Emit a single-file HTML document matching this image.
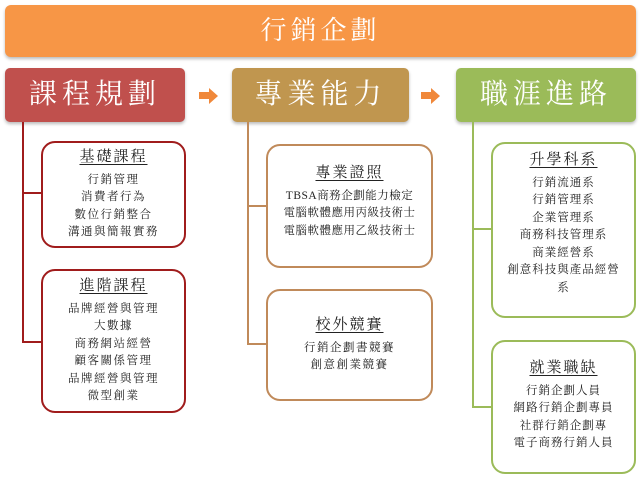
<!DOCTYPE html>
<html><head><meta charset="utf-8"><style>
body{margin:0;width:640px;height:489px;background:#fff;position:relative;overflow:hidden;font-family:"Liberation Serif","Noto Serif CJK SC","Noto Serif CJK TC",serif;}
.a{position:absolute;box-sizing:border-box}
.top{left:5px;top:5px;width:631px;height:52px;background:#f79646;border-radius:6px;box-shadow:0 2px 3px #bbb;color:#fff;font-size:26px;text-align:center;line-height:52px;letter-spacing:4px}
.h{top:68px;height:54px;border-radius:5px;box-shadow:0 2px 3px #bbb;color:#fff;font-size:28px;text-align:center;line-height:54px;letter-spacing:5px}
.box{background:#fff;border:2px solid;border-radius:14px;text-align:center;font-size:11.5px;line-height:17.5px;color:#222;letter-spacing:1.5px}
.box b{display:inline-block;font-weight:normal;font-size:15px;text-decoration:underline;text-underline-offset:3px;margin-bottom:5px;letter-spacing:2px}
.ln{position:absolute}
.arr{position:absolute;width:0;height:0;border-top:8px solid transparent;border-bottom:8px solid transparent;border-left:9px solid #f0883a}
.as{position:absolute;height:7px;background:#f0883a;width:10px}
</style></head><body>
<div class="a top">行銷企劃</div>
<div class="a h" style="left:5px;width:180px;background:#c0504d">課程規劃</div>
<div class="a h" style="left:232px;width:177px;background:#c0964f">專業能力</div>
<div class="a h" style="left:456px;width:180px;background:#9bbb59">職涯進路</div>
<div class="as" style="left:199px;top:92px"></div><div class="arr" style="left:209px;top:88px"></div>
<div class="as" style="left:421px;top:92px"></div><div class="arr" style="left:431px;top:88px"></div>

<div class="ln" style="left:22px;top:122px;width:2px;height:221px;background:#a01c1c"></div>
<div class="ln" style="left:22px;top:192px;width:20px;height:2px;background:#a01c1c"></div>
<div class="ln" style="left:22px;top:341px;width:20px;height:2px;background:#a01c1c"></div>
<div class="a box" style="left:41px;top:141px;width:145px;height:107px;border-color:#a01c1c;padding-top:6px"><b>基礎課程</b><br>行銷管理<br>消費者行為<br>數位行銷整合<br>溝通與簡報實務</div>
<div class="a box" style="left:41px;top:269px;width:145px;height:144px;border-color:#a01c1c;padding-top:7px"><b>進階課程</b><br>品牌經營與管理<br>大數據<br>商務網站經營<br>顧客關係管理<br>品牌經營與管理<br>微型創業</div>

<div class="ln" style="left:247px;top:122px;width:2px;height:223px;background:#c08a5a"></div>
<div class="ln" style="left:247px;top:205px;width:20px;height:2px;background:#c08a5a"></div>
<div class="ln" style="left:247px;top:343px;width:20px;height:2px;background:#c08a5a"></div>
<div class="a box" style="left:266px;top:144px;width:167px;height:124px;border-color:#c08a5a;padding-top:19px;letter-spacing:0.5px"><b>專業證照</b><br>TBSA商務企劃能力檢定<br>電腦軟體應用丙級技術士<br>電腦軟體應用乙級技術士</div>
<div class="a box" style="left:266px;top:289px;width:167px;height:112px;border-color:#c08a5a;padding-top:26px"><b>校外競賽</b><br>行銷企劃書競賽<br>創意創業競賽</div>

<div class="ln" style="left:472px;top:122px;width:2px;height:286px;background:#9bbb59"></div>
<div class="ln" style="left:472px;top:228px;width:20px;height:2px;background:#9bbb59"></div>
<div class="ln" style="left:472px;top:406px;width:20px;height:2px;background:#9bbb59"></div>
<div class="a box" style="left:491px;top:142px;width:145px;height:176px;border-color:#9bbb59;padding-top:8px;letter-spacing:1px"><b>升學科系</b><br>行銷流通系<br>行銷管理系<br>企業管理系<br>商務科技管理系<br>商業經營系<br>創意科技與產品經營<br>系</div>
<div class="a box" style="left:491px;top:340px;width:145px;height:134px;border-color:#9bbb59;padding-top:18px;letter-spacing:1px"><b>就業職缺</b><br>行銷企劃人員<br>網路行銷企劃專員<br>社群行銷企劃專<br>電子商務行銷人員</div>
</body></html>
